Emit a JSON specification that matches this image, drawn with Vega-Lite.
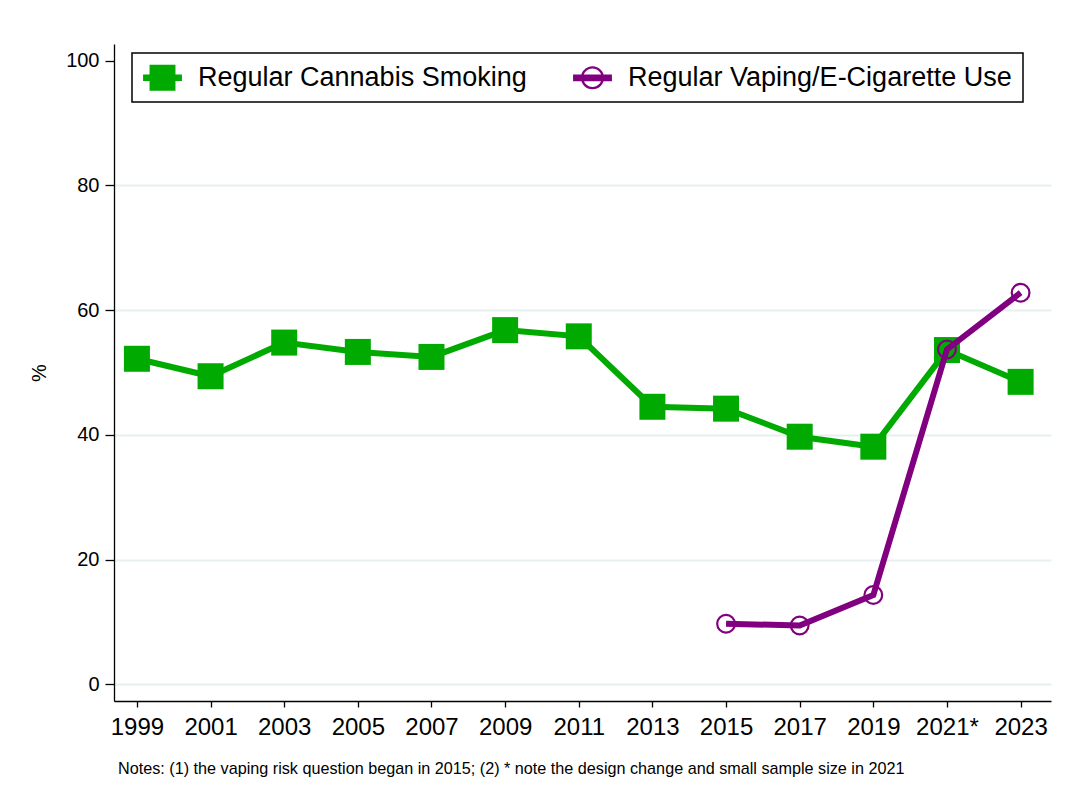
{
  "$schema": "https://vega.github.io/schema/vega-lite/v6.json",
  "autosize": "none",
  "width": 937,
  "height": 657,
  "padding": {"left": 114, "top": 44, "right": 25, "bottom": 91},
  "background": "white",
  "config": {
    "view": {"stroke": null},
    "font": "Liberation Sans",
    "axis": {"labelFont": "Liberation Sans", "titleFont": "Liberation Sans", "labelColor": "black", "titleColor": "black", "domainColor": "black", "tickColor": "black", "domainWidth": 1.3, "tickWidth": 1.3}
  },
  "title": {
    "text": "Notes: (1) the vaping risk question began in 2015; (2) * note the design change and small sample size in 2021",
    "orient": "bottom",
    "anchor": "start",
    "frame": "group",
    "font": "Liberation Sans",
    "fontSize": 16.2,
    "fontWeight": "normal",
    "color": "black",
    "offset": 22,
    "dx": 4
  },
  "data": {
    "values": [
      {"year": "1999", "series": "Regular Cannabis Smoking", "value": 52.2},
      {"year": "2001", "series": "Regular Cannabis Smoking", "value": 49.4},
      {"year": "2003", "series": "Regular Cannabis Smoking", "value": 54.8},
      {"year": "2005", "series": "Regular Cannabis Smoking", "value": 53.3},
      {"year": "2007", "series": "Regular Cannabis Smoking", "value": 52.5},
      {"year": "2009", "series": "Regular Cannabis Smoking", "value": 56.8},
      {"year": "2011", "series": "Regular Cannabis Smoking", "value": 55.8},
      {"year": "2013", "series": "Regular Cannabis Smoking", "value": 44.5},
      {"year": "2015", "series": "Regular Cannabis Smoking", "value": 44.2},
      {"year": "2017", "series": "Regular Cannabis Smoking", "value": 39.7},
      {"year": "2019", "series": "Regular Cannabis Smoking", "value": 38.1},
      {"year": "2021", "series": "Regular Cannabis Smoking", "value": 53.6},
      {"year": "2023", "series": "Regular Cannabis Smoking", "value": 48.5},
      {"year": "2015", "series": "Regular Vaping/E-Cigarette Use", "value": 9.7},
      {"year": "2017", "series": "Regular Vaping/E-Cigarette Use", "value": 9.4},
      {"year": "2019", "series": "Regular Vaping/E-Cigarette Use", "value": 14.3},
      {"year": "2021", "series": "Regular Vaping/E-Cigarette Use", "value": 53.7},
      {"year": "2023", "series": "Regular Vaping/E-Cigarette Use", "value": 62.8}
    ]
  },
  "encoding": {
    "x": {
      "field": "year",
      "type": "ordinal",
      "scale": {"type": "point", "padding": 0.362, "align": 0.43},
      "axis": {
        "title": null,
        "labelAngle": 0,
        "labelFontSize": 24,
        "labelPadding": 8,
        "tickSize": 6,
        "grid": false,
        "labelExpr": "datum.value == '2021' ? '2021*' : datum.value"
      }
    },
    "y": {
      "field": "value",
      "type": "quantitative",
      "scale": {"domain": [-2.7, 102.7], "nice": false, "zero": false},
      "axis": {
        "title": "%",
        "titleFontSize": 20,
        "titleFontWeight": "normal",
        "titlePadding": 16,
        "values": [0, 20, 40, 60, 80, 100],
        "labelFontSize": 20,
        "labelPadding": 6,
        "tickSize": 9,
        "grid": true,
        "gridColor": "#e8eff1",
        "gridWidth": 2,
        "gridOpacity": {"condition": {"test": "datum.value === 100", "value": 0}, "value": 1}
      }
    },
    "color": {
      "field": "series",
      "type": "nominal",
      "scale": {
        "domain": ["Regular Cannabis Smoking", "Regular Vaping/E-Cigarette Use"],
        "range": ["#00aa00", "#800080"]
      },
      "legend": {
        "title": null,
        "orient": "none",
        "legendX": 18,
        "legendY": 9,
        "direction": "horizontal",
        "padding": 11,
        "strokeColor": "black",
        "fillColor": "white",
        "labelFont": "Liberation Sans",
        "labelFontSize": 27,
        "labelColor": "black",
        "labelLimit": 600,
        "symbolSize": 729,
        "symbolOffset": 6,
        "labelOffset": 22,
        "columnPadding": 46,
        "encode": {
          "legend": {"update": {"strokeWidth": {"value": 1.5}}},
          "symbols": {
            "update": {
              "shape": [
                {"test": "datum.value === 'Regular Cannabis Smoking'", "value": "M-1.44,-0.24H1.44V0.24H-1.44Z M-0.96,-0.96H0.96V0.96H-0.96Z"},
                {"value": "M-1.44,-0.25H1.44V0.25H-1.44Z M0.86,0A0.86,0.86 0 1,1 -0.86,0A0.86,0.86 0 1,1 0.86,0Z M0.68,0A0.68,0.68 0 1,0 -0.68,0A0.68,0.68 0 1,0 0.68,0Z"}
              ],
              "fill": [
                {"test": "datum.value === 'Regular Cannabis Smoking'", "value": "#00aa00"},
                {"value": "#800080"}
              ],
              "stroke": {"value": "transparent"},
              "strokeWidth": {"value": 0},
              "size": {"value": 729},
              "opacity": {"value": 1}
            }
          }
        }
      }
    }
  },
  "layer": [
    {
      "transform": [{"filter": "datum.series === 'Regular Cannabis Smoking'"}],
      "mark": {"type": "line", "strokeWidth": 6}
    },
    {
      "transform": [{"filter": "datum.series === 'Regular Cannabis Smoking'"}],
      "mark": {"type": "point", "shape": "square", "filled": true, "size": 676, "opacity": 1}
    },
    {
      "transform": [{"filter": "datum.series === 'Regular Vaping/E-Cigarette Use'"}],
      "mark": {"type": "line", "strokeWidth": 6}
    },
    {
      "transform": [{"filter": "datum.series === 'Regular Vaping/E-Cigarette Use'"}],
      "mark": {"type": "point", "shape": "circle", "filled": false, "size": 314, "strokeWidth": 2.2, "opacity": 1}
    }
  ]
}
